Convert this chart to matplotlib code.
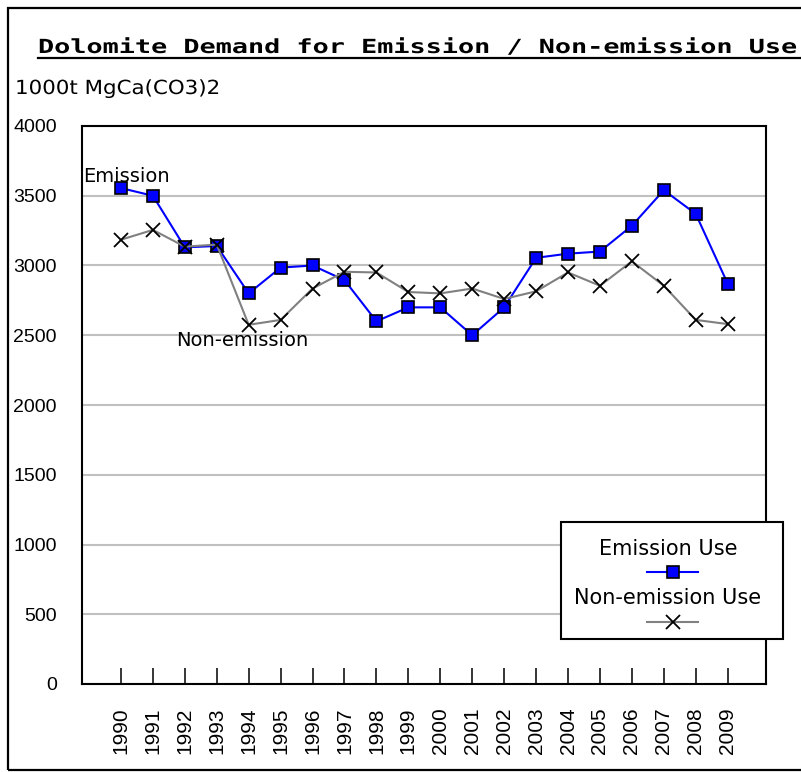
import matplotlib
matplotlib.use("Agg")
import matplotlib.pyplot as plt
from matplotlib.lines import Line2D
from matplotlib.patches import Rectangle
from matplotlib.patheffects import AbstractPathEffect
from matplotlib.transforms import Affine2D

# Data: dolomite demand, 1000 t MgCa(CO3)2
years = [str(y) for y in range(1990, 2010)]
emission_use = [3555, 3500, 3130, 3140, 2800, 2985, 3000, 2895, 2600, 2700,
                2700, 2500, 2700, 3055, 3085, 3100, 3285, 3540, 3370, 2870]
non_emission_use = [3185, 3255, 3135, 3150, 2575, 2610, 2835, 2955, 2950, 2810,
                    2800, 2835, 2760, 2815, 2950, 2855, 3030, 2855, 2610, 2580]
y_ticks = [0, 500, 1000, 1500, 2000, 2500, 3000, 3500, 4000]

title_text = "Dolomite Demand for Emission / Non-emission Use"
unit_text = "1000t MgCa(CO3)2"
series_names = ["Emission Use", "Non-emission Use"]

W, H = 801, 772
fig = plt.figure(figsize=(W / 100, H / 100), dpi=100)


def fx(px):
    return px / W


def fy(py):
    return 1 - py / H


class StretchX(AbstractPathEffect):
    """Widen text glyphs horizontally about a fixed display x position."""

    def __init__(self, sx, x0):
        super().__init__()
        self.sx = sx
        self.x0 = x0

    def draw_path(self, renderer, gc, tpath, affine, rgbFace=None):
        stretch = Affine2D().translate(-self.x0, 0).scale(self.sx, 1).translate(self.x0, 0)
        renderer.draw_path(gc, tpath, affine + stretch, rgbFace)


BLUE = "#0000ff"
GREY = "#808080"
TICK_FONT = "Liberation Sans"
TEXT_FONT = "DejaVu Sans"

ax = fig.add_axes([fx(82), fy(684), (766 - 82) / W, (684 - 126) / H])
xpos = list(range(len(years)))

ax.plot(xpos, emission_use, color=BLUE, lw=1.5, marker="s", ms=8.5,
        mfc=BLUE, mec="black", mew=1.2, zorder=3, clip_on=False)
ax.plot(xpos, non_emission_use, color=GREY, lw=1.5, marker="x", ms=10,
        mec="black", mew=1.3, zorder=4, clip_on=False)

ax.set_xlim(-1.22, len(years) - 1 + 1.2)
ax.set_ylim(0, 4000)
ax.set_yticks(y_ticks)
ax.set_yticklabels([str(v) for v in y_ticks], fontsize=14, family=TICK_FONT)
ax.set_xticks(xpos)
ax.set_xticklabels(years, rotation=90, fontsize=15, family=TICK_FONT)
ax.tick_params(axis="x", direction="in", length=11.5, width=1.1, pad=17,
               color="black")
ax.tick_params(axis="y", length=0, pad=18)
ax.yaxis.grid(True, color="#c0c0c0", lw=1.5)
ax.set_axisbelow(True)
for s in ax.spines.values():
    s.set_linewidth(1.5)
    s.set_color("black")

# Series captions inside the plot
ax.text(-1.18, 3640, "Emission", fontsize=14, family=TEXT_FONT,
        ha="left", va="center", zorder=5)
ax.text(1.72, 2460, "Non-emission", fontsize=14, family=TEXT_FONT,
        ha="left", va="center", zorder=5)

# Outer chart frame
fig.add_artist(Rectangle((fx(8), fy(770)), fx(830) - fx(8), fy(8) - fy(770),
                         transform=fig.transFigure, fill=False, lw=1.6,
                         edgecolor="black", clip_on=False))

# Title and unit label (stretched to their full widths after layout)
title = fig.text(fx(38), fy(53), title_text, fontsize=14,
                 family="DejaVu Sans Mono", fontweight="bold",
                 ha="left", va="baseline")
unit = fig.text(fx(15), fy(94), unit_text, fontsize=14, family=TEXT_FONT,
                ha="left", va="baseline")

# Legend box: label above each line sample
fig.add_artist(Rectangle((fx(561), fy(639)), fx(783) - fx(561), fy(522) - fy(639),
                         transform=fig.transFigure, facecolor="white",
                         edgecolor="black", lw=1.5, zorder=6))
legend_cx = 668
fig.text(fx(legend_cx), fy(549), series_names[0], fontsize=15, family=TEXT_FONT,
         ha="center", va="center", zorder=7)
fig.add_artist(Line2D([fx(647), fx(698)], [fy(572), fy(572)], color=BLUE, lw=1.5,
                      transform=fig.transFigure, zorder=7))
fig.add_artist(Line2D([fx(672.5)], [fy(572)], color=BLUE, marker="s", ms=8.5,
                      mfc=BLUE, mec="black", mew=1.2, transform=fig.transFigure,
                      zorder=8))
fig.text(fx(legend_cx), fy(598), series_names[1], fontsize=15, family=TEXT_FONT,
         ha="center", va="center", zorder=7)
fig.add_artist(Line2D([fx(647), fx(698)], [fy(622), fy(622)], color=GREY, lw=1.5,
                      transform=fig.transFigure, zorder=7))
fig.add_artist(Line2D([fx(672.5)], [fy(622)], color=GREY, marker="x", ms=10,
                      mec="black", mew=1.3, transform=fig.transFigure, zorder=8))

fig.canvas.draw()
renderer = fig.canvas.get_renderer()

tb = title.get_window_extent(renderer)
title.set_path_effects([StretchX(762 / tb.width, tb.x0)])
fig.add_artist(Line2D([tb.x0 / W, (tb.x0 + 762) / W], [fy(58), fy(58)],
                      color="black", lw=1.6, transform=fig.transFigure))

ub = unit.get_window_extent(renderer)
unit.set_path_effects([StretchX(205 / ub.width, ub.x0)])

fig.savefig("out.png", dpi=100)
